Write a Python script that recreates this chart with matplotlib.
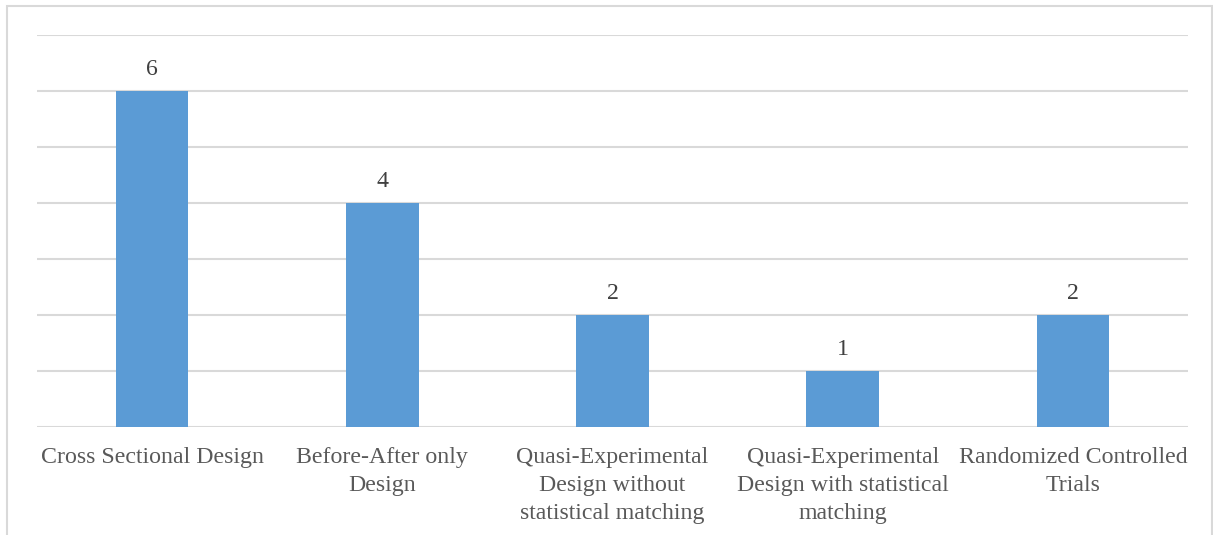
import matplotlib.pyplot as plt
from matplotlib.patches import Rectangle

# study designs and number of studies using each
categories = ['Cross Sectional Design', 'Before-After only\nDesign',
              'Quasi-Experimental\nDesign without\nstatistical matching',
              'Quasi-Experimental\nDesign with statistical\nmatching',
              'Randomized Controlled\nTrials']
counts = [6, 4, 2, 1, 2]

plt.rcParams['font.family'] = ['Liberation Serif', 'DejaVu Serif']

fig = plt.figure(figsize=(12.13, 5.35), dpi=100)
ax = fig.add_axes([37 / 1213, 1 - 427 / 535, 1151 / 1213, 392 / 535])

x = range(len(categories))
bars = ax.bar(x, counts, width=0.315, color='#5b9bd5', zorder=3)
for b, v in zip(bars, counts):
    ax.text(b.get_x() + b.get_width() / 2, v + 0.19, str(v),
            ha='center', va='bottom', fontsize=17.2, color='#404040')

ax.set_xlim(-0.5, len(categories) - 0.5)
ax.set_ylim(0, 7)
ax.set_yticks(range(0, 8))
ax.yaxis.grid(True, color='#d9d9d9', linewidth=1.5, zorder=0)
ax.tick_params(axis='y', left=False, labelleft=False)
ax.tick_params(axis='x', length=0, pad=14.5, labelsize=17.2, labelcolor='#595959')
ax.set_xticks(list(x))
ax.set_xticklabels(categories, linespacing=1.42)
for s in ax.spines.values():
    s.set_visible(False)

# chart frame
fig.patches.append(Rectangle((7 / 1213, -0.1), 1205 / 1213, 1.1 - 6 / 535,
                             transform=fig.transFigure, fill=False,
                             edgecolor='#d9d9d9', linewidth=1.5))

fig.savefig('out.png', dpi=100)
